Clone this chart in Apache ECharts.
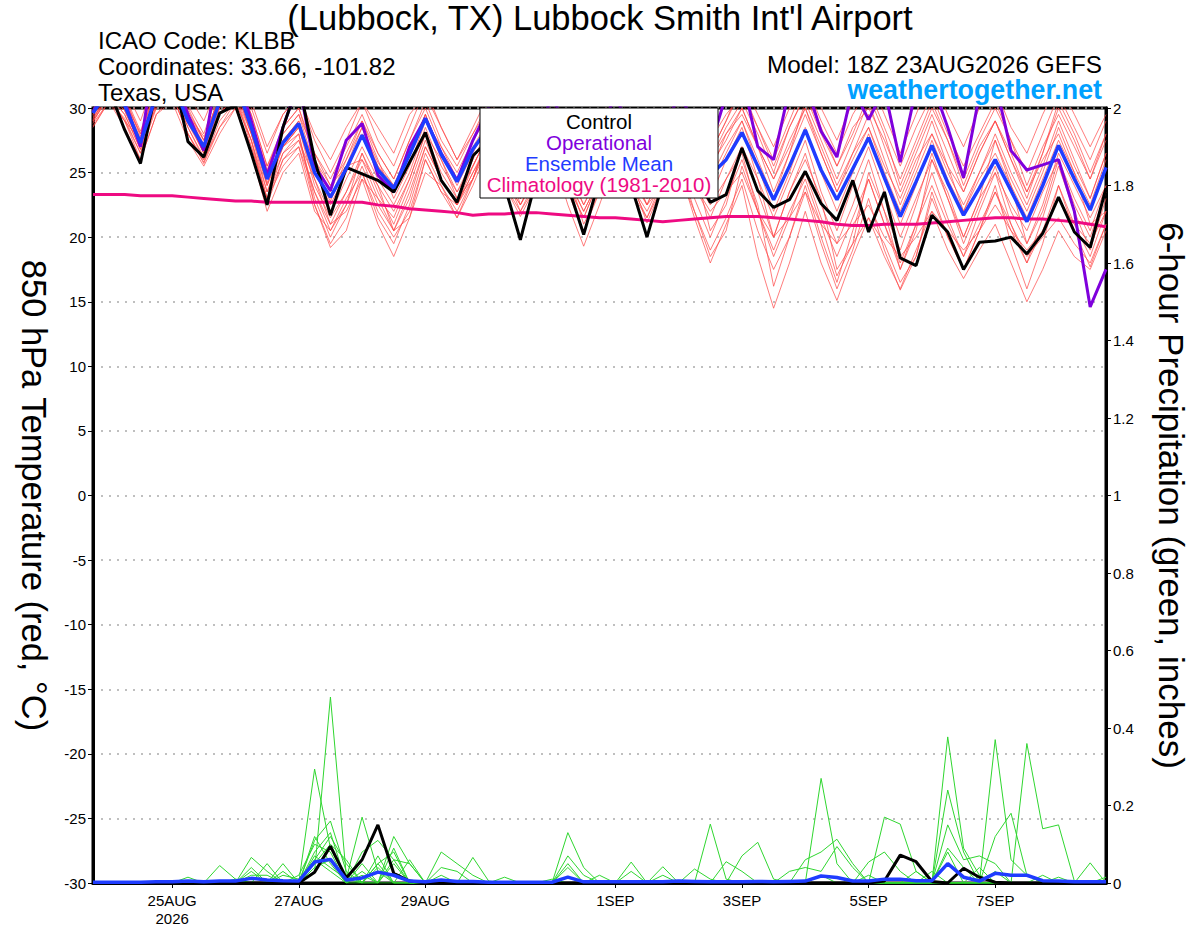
<!DOCTYPE html>
<html>
<head>
<meta charset="utf-8">
<script src="https://cdn.jsdelivr.net/npm/echarts@6/dist/echarts.min.js"></script>
<style>
  html, body { margin: 0; padding: 0; background: #fff; }
  #main { width: 1200px; height: 927px; }
</style>
</head>
<body>
<div id="main"></div>
<script>
// GEFS run 18Z 23AUG2026, 6-hourly steps, 65 points (23AUG 18Z .. 8SEP 18Z)
var START = Date.UTC(2026, 7, 23, 18);
var MONTHS = ['JAN','FEB','MAR','APR','MAY','JUN','JUL','AUG','SEP','OCT','NOV','DEC'];
var steps = [];
for (var i = 0; i < 65; i++) {
  var d = new Date(START + i * 6 * 3600 * 1000);
  steps.push(d.getUTCHours() + 'Z' + d.getUTCDate() + MONTHS[d.getUTCMonth()]);
}
var xTickIdx = [5, 13, 21, 33, 41, 49, 57];
var xTickText = ['25AUG\n2026', '27AUG', '29AUG', '1SEP', '3SEP', '5SEP', '7SEP'];

// 850 hPa temperature (C)
var ctlTemp = [30.8,
  31.5, 28.3, 25.7, 31.5,  33.0, 27.4, 26.2, 29.6,  30.2, 26.5, 22.5, 28.5,  32.0, 26.0, 21.7, 25.4,
  24.9, 24.4, 23.5, 25.8,  28.1, 24.4, 22.7, 26.3,  27.5, 24.0, 19.8, 24.5,  27.8, 24.0, 20.2, 24.5,
  27.5, 24.0, 20.0, 24.2,  27.0, 25.0, 22.7, 23.3,  26.9, 23.6, 22.3, 22.9,  25.1, 22.6, 21.3, 24.4,
  20.4, 23.5, 18.4, 17.8,  21.7, 20.4, 17.5, 19.6,  19.7, 20.0, 18.7, 20.3,  23.1, 20.4, 19.2, 23.8];
var opTemp = [29.7,
  32.0, 30.5, 27.0, 35.0,  33.0, 29.5, 26.7, 34.0,  33.0, 29.0, 24.8, 28.5,  32.0, 25.5, 23.6, 27.5,
  28.8, 24.8, 23.5, 27.0,  29.2, 26.5, 24.4, 27.5,  30.0, 27.0, 25.0, 27.5,  31.0, 28.0, 25.5, 28.0,
  31.0, 28.0, 25.5, 28.0,  31.0, 29.0, 27.0, 31.0,  32.5, 27.0, 26.0, 31.5,  32.0, 28.2, 26.2, 31.5,
  29.1, 31.5, 25.8, 31.5,  32.0, 28.5, 24.6, 31.0,  32.0, 26.7, 25.2, 25.6,  26.0, 22.0, 14.6, 17.5];
var meanTemp = [29.6,
  31.5, 30.2, 27.3, 31.0,  32.0, 29.0, 27.0, 30.5,  32.0, 28.5, 24.5, 27.3,  28.8, 25.0, 23.1, 25.3,
  27.9, 25.2, 23.8, 26.4,  29.2, 26.4, 24.3, 26.8,  28.5, 25.5, 23.8, 25.5,  28.5, 25.5, 23.6, 25.6,
  28.2, 25.4, 23.5, 25.5,  28.0, 26.3, 24.8, 26.0,  28.1, 25.5, 22.9, 25.5,  28.3, 25.2, 22.9, 25.3,
  27.7, 24.6, 21.6, 24.3,  27.1, 24.2, 21.7, 23.8,  26.0, 23.6, 21.2, 24.0,  27.1, 24.5, 22.1, 25.4];
var climTemp = [23.3,
  23.3, 23.3, 23.2, 23.2,  23.2, 23.1, 23.0, 22.9,  22.8, 22.8, 22.7, 22.7,  22.7, 22.7, 22.7, 22.7,
  22.7, 22.5, 22.4, 22.2,  22.1, 22.0, 21.9, 21.7,  21.8, 21.8, 21.9, 21.9,  21.8, 21.7, 21.6, 21.5,
  21.5, 21.4, 21.3, 21.2,  21.3, 21.4, 21.5, 21.6,  21.6, 21.6, 21.5, 21.4,  21.3, 21.2, 21.0, 20.9,
  20.9, 21.0, 21.0, 21.0,  21.1, 21.2, 21.3, 21.4,  21.5, 21.5, 21.4, 21.4,  21.3, 21.2, 21.0, 20.8];

// ensemble members, 850 hPa temperature
var memTemp = [
  [30.2, 32.5,31.0,28.2,31.8, 33.0,30.2,28.0,31.5, 33.0,30.0,26.5,29.5, 31.0,27.5,25.0,27.5, 30.5,27.5,25.5,28.5, 31.5,28.5,26.0,28.5,
   31.0,28.0,25.5,28.0, 31.0,28.0,25.5,28.5, 31.0,28.0,25.6,28.5, 31.0,28.5,26.5,29.0, 31.5,28.5,26.0,29.0, 32.0,29.0,26.5,29.5,
   31.5,28.5,25.5,28.5, 31.0,28.0,25.5,28.0, 30.5,27.5,25.0,28.0, 31.0,28.5,26.0,29.0],
  [29.0, 31.0,29.5,26.8,30.5, 31.5,28.5,26.2,29.5, 31.0,27.5,23.0,26.5, 27.5,23.5,20.5,22.5, 25.5,22.5,20.5,23.5, 27.0,24.5,22.5,25.0,
   27.5,24.5,22.5,24.5, 27.0,23.5,20.5,23.5, 26.5,24.0,22.0,24.5, 27.0,24.0,21.5,24.5, 26.5,22.0,18.5,21.5, 25.0,21.5,18.5,21.5,
   24.5,21.0,18.0,21.0, 24.0,21.0,18.5,21.0, 23.5,20.5,18.0,20.5, 24.0,21.0,18.5,22.0],
  [28.5, 30.5,29.0,26.5,30.0, 31.0,28.0,25.8,29.0, 30.5,27.5,23.5,27.0, 28.0,22.5,19.2,20.5, 24.5,21.0,18.5,21.5, 26.0,23.5,21.5,24.0,
   27.0,24.0,22.0,24.5, 26.5,22.5,19.3,22.5, 26.0,23.5,21.5,24.0, 25.5,21.5,18.0,21.0, 24.0,18.5,14.5,18.0, 22.0,18.0,15.1,18.5,
   21.5,18.5,16.0,19.0, 22.0,19.0,16.8,19.0, 21.0,18.0,15.0,17.5, 20.5,18.5,17.5,20.5],
  [29.8, 32.0,30.5,28.0,31.5, 32.5,29.5,27.5,31.0, 32.5,29.5,25.5,28.5, 30.0,26.5,24.5,27.0, 29.5,26.5,24.5,27.5, 30.5,27.5,25.5,28.0,
   30.0,27.0,25.0,27.5, 30.5,27.5,25.0,27.5, 30.0,27.5,25.0,28.0, 30.5,28.0,26.5,29.0, 32.0,29.5,27.0,30.0, 33.0,30.0,27.5,30.5,
   32.5,29.5,26.5,29.5, 32.5,29.5,27.0,30.0, 31.5,28.5,26.5,29.5, 32.0,29.5,27.0,29.5],
  [29.5, 31.5,30.0,27.0,31.0, 32.0,29.2,26.5,30.5, 32.0,28.5,24.0,27.5, 29.0,25.0,22.5,25.0, 28.0,25.5,24.0,26.5, 29.5,26.0,23.5,26.0,
   28.5,25.5,24.0,26.0, 29.0,26.0,24.0,26.0, 28.5,25.5,23.0,25.5, 28.5,26.5,24.5,27.0, 29.0,25.5,22.0,25.0, 28.5,25.0,22.0,25.0,
   28.0,24.5,21.0,24.0, 27.5,24.5,22.0,24.5, 26.5,24.0,21.5,24.5, 27.5,25.0,22.5,26.0],
  [29.2, 31.0,29.8,27.2,30.8, 31.5,28.8,26.8,30.0, 31.5,28.0,24.5,27.0, 28.5,24.0,21.5,23.5, 26.5,24.0,22.0,24.5, 28.0,25.0,23.0,25.5,
   28.0,25.0,23.0,25.0, 28.0,25.0,22.5,25.0, 27.5,25.0,23.0,25.0, 27.0,24.0,22.0,23.5, 25.0,22.0,20.0,21.5, 23.5,21.0,19.5,21.0,
   22.5,20.0,18.5,20.0, 22.0,20.5,19.0,20.5, 22.5,20.5,19.0,20.5, 23.0,21.0,19.5,22.0],
  [30.0, 32.0,30.8,27.8,31.5, 32.5,30.0,27.5,31.0, 32.0,29.0,25.2,28.5, 30.0,26.0,23.5,26.5, 29.0,26.5,24.5,27.5, 30.0,27.0,25.0,27.5,
   29.5,27.0,25.0,27.0, 30.0,27.0,24.5,27.0, 29.5,27.0,24.5,27.0, 29.5,27.5,26.0,28.0, 30.0,27.0,23.5,26.5, 30.5,27.5,24.5,27.5,
   30.5,27.0,23.5,26.5, 29.5,26.5,23.5,26.5, 29.0,26.0,23.0,26.5, 30.0,27.5,24.5,27.5],
  [28.8, 30.5,29.2,26.5,30.5, 31.5,28.5,26.0,29.5, 31.0,28.0,23.5,26.5, 28.0,23.0,20.0,22.5, 26.5,23.5,21.0,24.0, 27.5,24.5,22.5,25.0,
   27.0,24.0,21.6,24.0, 27.0,24.0,21.5,24.5, 27.5,24.5,21.1,24.0, 26.5,23.0,20.0,23.0, 26.0,22.5,16.2,20.0, 24.0,20.0,16.5,20.5,
   24.5,21.0,17.5,21.0, 25.0,21.5,18.5,22.0, 25.0,21.0,18.0,21.5, 25.5,22.0,19.0,23.0],
  [29.6, 31.8,30.5,27.6,31.2, 32.2,29.5,27.2,31.0, 32.3,29.0,25.0,28.0, 29.5,25.5,23.0,26.0, 28.5,25.5,23.5,26.5, 29.5,26.5,24.5,27.0,
   29.0,26.0,24.0,26.5, 29.0,26.0,23.5,26.5, 29.0,26.0,23.5,26.0, 28.5,26.0,24.0,26.5, 29.0,26.0,23.0,26.5, 29.5,26.5,23.5,26.0,
   28.5,25.0,22.0,25.0, 28.0,25.0,22.5,25.0, 27.5,24.5,22.0,25.0, 28.5,25.5,23.0,26.5],
  [28.9, 31.0,29.5,26.8,30.2, 31.0,28.0,25.7,28.5, 30.5,27.5,22.5,26.0, 27.0,22.5,19.5,21.5, 25.0,21.5,19.5,22.5, 26.5,24.0,22.0,24.5,
   27.0,24.5,22.5,25.0, 27.5,24.5,22.0,24.5, 27.0,24.5,22.5,24.0, 26.0,22.0,19.0,21.5, 24.5,20.5,17.5,20.0, 23.5,19.5,16.0,19.0,
   23.0,19.0,15.9,18.5, 23.5,20.0,17.5,20.5, 24.0,19.5,16.0,19.5, 24.0,20.5,17.7,21.0],
  [29.4, 31.2,30.0,27.2,31.0, 31.8,29.0,26.8,30.3, 31.8,28.2,24.2,27.5, 29.0,25.0,22.8,25.5, 28.5,25.8,24.0,26.8, 29.5,26.5,24.0,26.5,
   29.0,26.0,24.3,26.0, 28.5,25.5,23.8,26.0, 29.0,26.0,24.0,26.0, 29.0,27.0,25.5,27.5, 30.0,27.0,24.5,27.0, 30.0,26.5,23.5,26.5,
   29.5,26.0,22.5,25.5, 29.0,25.5,22.0,25.0, 28.0,25.0,22.5,25.5, 29.0,26.0,23.0,26.5],
  [29.1, 31.3,29.8,27.0,30.6, 31.6,28.8,26.5,30.0, 31.5,28.0,24.0,27.0, 28.5,24.5,21.8,24.5, 27.0,24.5,22.5,25.0, 28.5,25.5,23.5,25.5,
   28.0,25.0,23.0,25.0, 28.0,24.5,22.0,24.5, 27.5,25.0,22.5,25.0, 27.5,24.5,22.5,24.5, 27.0,23.5,20.0,23.5, 26.5,22.5,19.5,22.5,
   26.0,22.0,19.0,22.5, 26.5,23.0,19.5,22.5, 25.5,22.0,19.5,22.0, 26.0,22.5,20.0,23.5],
  [29.3, 31.0,29.0,27.5,30.0, 31.5,29.5,27.8,30.0, 31.0,27.0,23.0,26.0, 27.5,24.5,21.0,22.0, 24.5,23.0,21.5,24.5, 28.0,26.0,23.0,24.5,
   28.0,26.5,22.5,25.0, 27.0,25.0,21.0,23.5, 28.0,26.0,23.5,25.5, 27.0,25.5,20.5,22.5, 27.0,24.5,20.0,23.5, 26.0,23.0,17.5,19.5,
   25.0,22.0,17.5,20.5, 26.0,23.5,20.0,23.0, 27.5,24.0,19.5,22.5, 26.5,24.0,21.5,24.0],
  [30.5, 33.0,31.5,29.0,32.5, 33.5,31.0,29.0,32.0, 33.5,30.5,27.0,29.5, 31.0,28.0,26.0,28.5, 30.5,28.5,26.5,29.5, 31.0,28.5,26.0,28.0,
   30.5,28.0,25.5,28.5, 31.5,28.5,26.0,29.0, 31.5,29.0,26.5,29.0, 31.0,29.0,27.5,29.5, 31.0,28.5,25.5,28.5, 31.0,28.0,25.5,28.5,
   30.0,27.5,24.5,27.5, 30.5,27.5,24.5,27.5, 30.0,27.5,24.0,27.0, 29.5,27.0,24.5,28.0],
  [29.0, 30.8,29.0,26.0,29.5, 31.0,28.0,26.0,28.5, 30.0,26.5,22.0,25.0, 26.5,22.0,20.5,23.0, 25.0,22.0,20.0,22.0, 26.0,23.5,22.5,25.5,
   28.0,25.5,23.0,26.0, 28.5,26.0,23.5,26.5, 29.0,26.5,24.0,26.5, 29.0,27.5,25.0,28.0, 29.5,27.0,24.5,27.5, 30.0,27.0,24.0,26.5,
   28.5,25.5,23.0,26.0, 28.0,25.5,23.5,26.5, 29.0,26.0,23.5,26.0, 28.0,25.0,21.0,22.0],
  [29.9, 32.0,30.0,27.5,31.0, 32.0,29.0,26.5,29.5, 31.5,28.5,25.0,27.0, 28.5,26.0,24.0,25.5, 26.0,24.0,20.5,21.5, 25.0,24.0,21.5,24.5,
   28.0,25.0,22.0,24.0, 26.5,24.0,21.5,24.5, 27.5,24.0,21.5,24.5, 25.0,22.0,18.5,20.5, 25.5,22.0,19.0,22.0, 24.5,21.0,17.0,19.5,
   21.5,19.5,16.5,18.5, 23.0,20.0,17.5,20.5, 23.5,21.0,18.5,20.0, 21.5,19.5,18.0,21.0],
  [29.5, 32.2,30.8,28.0,31.5, 32.5,29.8,27.5,31.0, 32.5,29.5,25.5,28.0, 29.5,26.5,24.0,26.0, 29.0,26.0,23.0,25.5, 29.0,27.0,24.5,27.5,
   29.5,26.5,24.5,27.0, 29.5,27.0,25.0,27.5, 29.5,26.5,24.0,27.0, 30.0,28.0,26.0,28.5, 30.5,28.0,25.0,28.5, 31.0,28.5,25.5,28.0,
   31.0,28.0,24.0,27.0, 30.0,27.5,24.0,27.0, 29.0,26.5,23.5,26.5, 30.5,28.0,25.0,28.0],
  [28.6, 30.5,28.5,26.0,29.5, 30.5,27.5,25.5,28.0, 30.0,27.0,23.0,25.5, 27.0,23.5,21.0,23.5, 26.0,23.0,20.5,23.0, 27.0,24.5,22.5,24.5,
   27.5,25.0,23.0,25.5, 28.0,25.5,22.5,25.0, 28.0,25.5,22.5,25.5, 28.0,25.0,23.0,26.0, 28.5,24.5,21.5,24.5, 27.5,23.5,20.5,24.0,
   27.0,23.5,20.0,23.0, 26.0,23.0,20.0,23.0, 25.0,22.5,20.5,23.5, 26.0,23.0,20.5,24.0]
];

// 6-hour precipitation (inches)
var ctlPcp = [0,
  0,0,0,0, 0,0,0,0, 0,0,0,0, 0,0.028,0.095,0.013,
  0.06,0.15,0.025,0.005, 0,0,0,0, 0,0,0,0, 0,0,0,0,
  0,0,0,0, 0,0,0,0, 0,0,0,0, 0,0,0,0,
  0,0.005,0.072,0.055, 0.004,0,0.038,0.015, 0.002,0,0,0, 0,0,0,0];
var meanPcp = [0.002,
  0.002,0.002,0.002,0.003, 0.003,0.005,0.003,0.005, 0.005,0.012,0.008,0.006, 0.005,0.054,0.061,0.008,
  0.013,0.028,0.02,0.005, 0.003,0.008,0.004,0.004, 0.002,0.002,0.002,0.002, 0.002,0.015,0.003,0.003,
  0.003,0.003,0.003,0.003, 0.005,0.004,0.003,0.003, 0.003,0.004,0.003,0.004, 0.005,0.018,0.014,0.005,
  0.005,0.01,0.01,0.006, 0.006,0.05,0.015,0.005, 0.025,0.02,0.02,0.006, 0.005,0.003,0.003,0.003];
var memPcp = [
  [0, 0,0,0,0, 0,0,0,0, 0,0,0,0, 0,0.03,0.48,0.02, 0,0.05,0.08,0, 0,0,0,0, 0,0,0,0, 0,0.13,0.04,0,
   0,0,0,0, 0,0,0,0, 0,0,0,0, 0,0.02,0,0, 0,0,0,0, 0,0,0,0, 0.37,0.06,0.02,0, 0,0,0,0],
  [0, 0,0,0,0, 0,0,0,0, 0,0,0,0, 0,0.294,0.09,0.01, 0.17,0.03,0,0, 0,0.08,0.05,0.02, 0,0,0,0, 0,0,0,0,
   0,0,0,0, 0,0,0.152,0.01, 0,0,0,0, 0,0,0,0, 0,0,0,0, 0,0.377,0.09,0.02, 0,0,0,0, 0,0,0,0],
  [0, 0,0,0,0, 0,0,0,0, 0,0.066,0.03,0, 0,0.11,0.16,0.03, 0,0,0.12,0.05, 0,0,0,0, 0,0,0,0, 0,0,0,0,
   0,0,0,0, 0,0,0,0, 0,0,0,0, 0,0.27,0.05,0, 0,0,0,0, 0,0,0,0, 0,0,0.36,0.14, 0.15,0.005,0,0],
  [0, 0,0,0,0, 0,0,0,0.045, 0.01,0,0,0.05, 0,0.08,0.13,0, 0.08,0.11,0.06,0, 0,0,0,0, 0,0,0,0, 0,0,0,0,
   0,0,0,0, 0,0,0,0, 0,0,0,0, 0,0,0,0, 0,0,0,0, 0,0.24,0.08,0, 0.12,0.18,0.02,0, 0,0,0,0],
  [0, 0,0,0,0, 0,0,0,0, 0,0,0,0, 0,0.06,0.12,0.05, 0,0.07,0,0.06, 0,0,0,0.066, 0.005,0,0,0, 0,0,0,0,
   0,0,0,0, 0,0,0,0, 0,0,0,0, 0,0,0,0, 0,0.17,0.152,0.03, 0,0,0,0, 0,0,0,0, 0,0,0.052,0],
  [0, 0,0,0,0, 0,0,0,0, 0,0,0.05,0, 0.02,0.1,0.08,0, 0.05,0,0.09,0, 0,0,0,0, 0,0,0,0, 0,0.07,0.02,0,
   0,0.054,0,0.042, 0,0,0,0, 0.07,0.105,0.01,0, 0,0,0,0, 0,0,0,0, 0,0,0,0, 0,0,0,0, 0,0,0,0],
  [0, 0,0,0,0, 0,0,0,0, 0,0.04,0,0, 0,0.05,0.1,0.06, 0,0.04,0,0, 0,0,0,0, 0,0,0,0, 0,0.05,0,0,
   0,0,0,0, 0,0,0,0, 0,0,0,0, 0.06,0.08,0.113,0.05, 0,0,0,0, 0,0.15,0.06,0.07, 0.05,0,0,0, 0,0,0,0],
  [0, 0,0,0,0, 0,0,0,0, 0,0,0,0.03, 0,0.04,0.06,0, 0.02,0,0.05,0, 0,0.04,0.03,0, 0,0,0,0, 0,0.04,0,0,
   0,0,0,0, 0,0.036,0.01,0, 0,0,0,0, 0,0,0,0, 0.054,0.08,0.03,0, 0,0.09,0.04,0, 0,0,0,0, 0,0,0,0],
  [0, 0,0,0,0, 0,0.015,0,0, 0,0.03,0,0, 0,0.12,0.05,0, 0,0.05,0,0, 0,0,0,0, 0,0.015,0,0, 0,0,0,0,
   0,0,0,0, 0,0,0,0, 0,0,0,0.03, 0.04,0.03,0.094,0.04, 0,0,0,0, 0,0.08,0,0.04, 0,0,0,0.02, 0,0,0,0],
  [0, 0,0,0,0.005, 0,0,0,0, 0,0.02,0.02,0, 0,0.07,0.04,0.01, 0,0,0.06,0.05, 0,0,0,0, 0,0,0,0, 0,0,0,0.02,
   0,0,0,0, 0,0,0,0.055, 0.03,0,0,0, 0,0,0,0, 0.02,0,0,0, 0.03,0,0,0, 0,0,0,0, 0,0,0,0.015],
  [0, 0,0,0,0, 0,0,0,0, 0.01,0,0,0.02, 0.01,0.06,0.03,0, 0.03,0,0,0, 0,0.02,0,0, 0,0,0,0, 0.01,0,0,0,
   0,0.03,0,0.02, 0,0,0,0, 0,0,0,0, 0,0,0,0, 0,0,0,0.03, 0,0,0,0, 0.03,0,0,0, 0.015,0,0,0]
];

var FONT = '"Liberation Sans", Arial, Helvetica, sans-serif';
var C_RED = 'rgba(255,70,70,0.7)';
var C_GREEN = '#2fd62f';
var C_OP = '#7f00dc';
var C_MEAN = '#1f3cff';
var C_CLIM = '#ee0a82';

var series = [];
memTemp.forEach(function (m, k) {
  series.push({ name: 'mem' + k, type: 'line', data: m, yAxisIndex: 0, symbol: 'none',
    lineStyle: { color: C_RED, width: 1 }, silent: true });
});
memPcp.forEach(function (m, k) {
  series.push({ name: 'pcp' + k, type: 'line', data: m, yAxisIndex: 1, symbol: 'none',
    lineStyle: { color: C_GREEN, width: 1 }, silent: true });
});
series.push({ name: 'Climatology (1981-2010)', type: 'line', data: climTemp, yAxisIndex: 0, symbol: 'none',
  lineStyle: { color: C_CLIM, width: 3 } });
series.push({ name: 'Operational', type: 'line', data: opTemp, yAxisIndex: 0, symbol: 'none',
  lineStyle: { color: C_OP, width: 3 } });
series.push({ name: 'Control', type: 'line', data: ctlTemp, yAxisIndex: 0, symbol: 'none',
  lineStyle: { color: '#000', width: 3 } });
series.push({ name: 'Ensemble Mean', type: 'line', data: meanTemp, yAxisIndex: 0, symbol: 'none',
  lineStyle: { color: C_MEAN, width: 3.5 } });
series.push({ name: 'Control pcp', type: 'line', data: ctlPcp, yAxisIndex: 1, symbol: 'none',
  lineStyle: { color: '#000', width: 3 } });
series.push({ name: 'Mean pcp', type: 'line', data: meanPcp, yAxisIndex: 1, symbol: 'none',
  lineStyle: { color: C_MEAN, width: 3.5 } });

function isTick(index) { return xTickIdx.indexOf(index) >= 0; }

var legendItems = [
  ['Control', '#000'], ['Operational', C_OP], ['Ensemble Mean', C_MEAN], ['Climatology (1981-2010)', C_CLIM]
];
var graphics = [{ type: 'rect', z: 100, shape: { x: 480, y: 108, width: 238, height: 90 },
  style: { fill: '#fff', stroke: '#000', lineWidth: 1 } }];
legendItems.forEach(function (it, k) {
  graphics.push({ type: 'text', z: 101, x: 599, y: 121 + k * 21.3,
    style: { text: it[0], fill: it[1], font: '20.5px ' + FONT, align: 'center', verticalAlign: 'middle' } });
});

var myChart = echarts.init(document.getElementById('main'), null, { renderer: 'svg' });
myChart.setOption({
  animation: false,
  backgroundColor: '#fff',
  textStyle: { fontFamily: FONT },
  title: [
    { text: "(Lubbock, TX) Lubbock Smith Int'l Airport", left: 'center', top: 0, padding: 0,
      textStyle: { fontSize: 34.5, fontWeight: 'normal', color: '#000', fontFamily: FONT } },
    { text: 'ICAO Code: KLBB\nCoordinates: 33.66, -101.82\nTexas, USA', left: 98, top: 27, padding: 0,
      textStyle: { fontSize: 24, lineHeight: 26, fontWeight: 'normal', color: '#000', fontFamily: FONT } },
    { text: 'Model: 18Z 23AUG2026 GEFS', right: 98, top: 52, padding: 0,
      textStyle: { fontSize: 24.3, fontWeight: 'normal', color: '#000', fontFamily: FONT } },
    { text: 'weathertogether.net', right: 98, top: 76, padding: 0,
      textStyle: { fontSize: 26.8, fontWeight: 'bold', color: '#00a0ff', fontFamily: FONT } }
  ],
  grid: { left: 93, right: 94, top: 108, bottom: 44, show: true, borderColor: '#000', borderWidth: 3,
    backgroundColor: 'transparent' },
  xAxis: {
    type: 'category', data: steps, boundaryGap: false,
    axisLine: { onZero: false, lineStyle: { color: '#000', width: 3 } },
    axisTick: { interval: isTick, length: 5, lineStyle: { color: '#000', width: 1 } },
    axisLabel: { interval: isTick, color: '#000', fontSize: 15, margin: 8, lineHeight: 18,
      formatter: function (v, idx) { var p = xTickIdx.indexOf(idx); return p >= 0 ? xTickText[p] : ''; } },
    splitLine: { show: false }
  },
  yAxis: [
    { type: 'value', min: -30, max: 30, interval: 5, position: 'left',
      name: '850 hPa Temperature (red, \u00B0C)', nameLocation: 'middle', nameRotate: -90, nameGap: 42,
      nameTextStyle: { fontSize: 34.5, color: '#000', fontFamily: FONT },
      axisLine: { show: true, onZero: false, lineStyle: { color: '#000', width: 3 } },
      axisTick: { show: true, length: 5, lineStyle: { color: '#000', width: 1 } },
      axisLabel: { color: '#000', fontSize: 15, margin: 7 },
      splitLine: { show: true, lineStyle: { color: '#aaa', type: [2, 6], width: 1.5 } } },
    { type: 'value', min: 0, max: 2, interval: 0.2, position: 'right',
      name: '6-hour Precipitation (green, inches)', nameLocation: 'middle', nameRotate: -90, nameGap: 48,
      nameTextStyle: { fontSize: 35, color: '#000', fontFamily: FONT },
      axisLine: { show: true, onZero: false, lineStyle: { color: '#000', width: 3 } },
      axisTick: { show: true, length: 5, lineStyle: { color: '#000', width: 1 } },
      axisLabel: { color: '#000', fontSize: 15, margin: 7 },
      splitLine: { show: false } }
  ],
  graphic: graphics,
  series: series
});
</script>
</body>
</html>
